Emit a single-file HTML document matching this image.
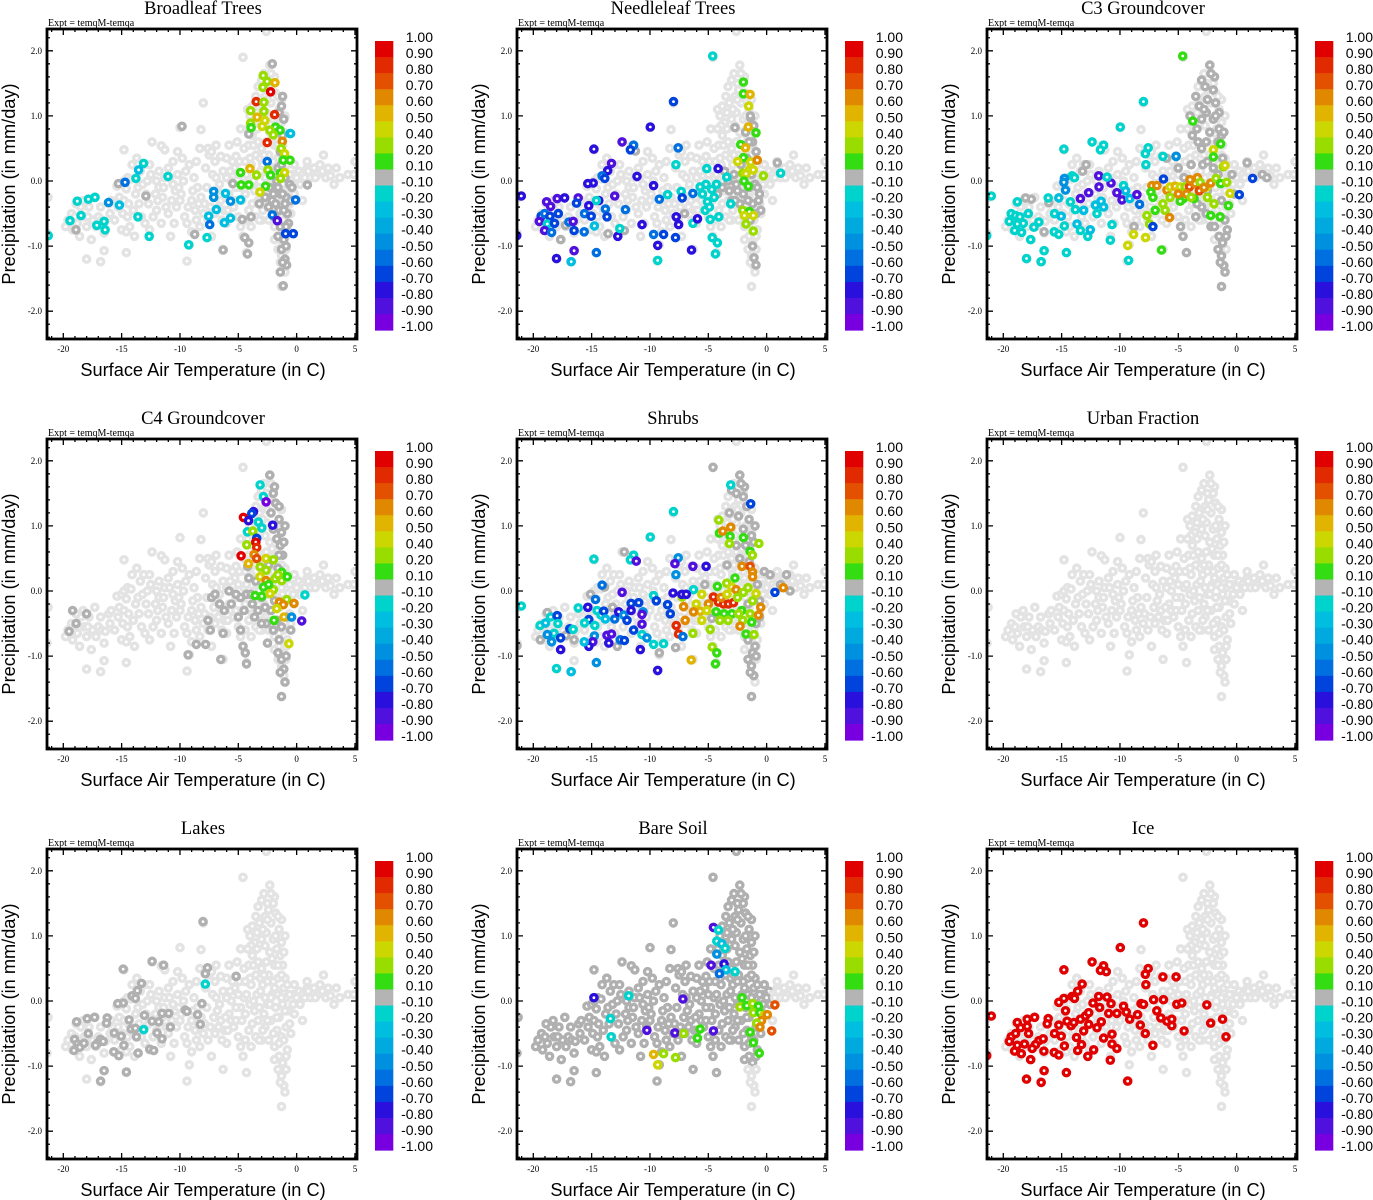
<!DOCTYPE html>
<html><head><meta charset="utf-8"><style>
html,body{margin:0;padding:0;background:#fff;}
svg{display:block;}
.t{font-family:"Liberation Serif",serif;}
.s{font-family:"Liberation Sans",sans-serif;}
</style></head><body>
<svg id="fig" width="1373" height="1200" viewBox="0 0 1373 1200" xmlns="http://www.w3.org/2000/svg"></svg>
<script>
const panelTitles=["Broadleaf Trees","Needleleaf Trees","C3 Groundcover","C4 Groundcover","Shrubs","Urban Fraction","Lakes","Bare Soil","Ice"];
const xTicks=[-20,-15,-10,-5,0,5];
const xTickLabels=["-20","-15","-10","-5","0","5"];
const yTicks=[2,1,0,-1,-2];
const yTickLabels=["2.0","1.0","0.0","-1.0","-2.0"];
const cbLabels=["1.00","0.90","0.80","0.70","0.60","0.50","0.40","0.20","0.10","-0.10","-0.20","-0.30","-0.40","-0.50","-0.60","-0.70","-0.80","-0.90","-1.00"];
const cbColors=["#e00000","#e22a00","#e25000","#e08800","#e0b400","#ccd600","#99dd00","#33dd11","#b4b4b4","#00d2cc","#00bedf","#00aade","#0090e0","#0070e0","#0044dd","#2a10dd","#5010dd","#7800e0"];
const cbEdges=[1,0.9,0.8,0.7,0.6,0.5,0.4,0.2,0.1,-0.1,-0.2,-0.3,-0.4,-0.5,-0.6,-0.7,-0.8,-0.9,-1.0];

const cloud=[[-19.6,-0.6],[-19.3,-0.5],[-19.0,-0.55],[-19.2,-0.75],[-18.8,-0.65],[-18.5,-0.4],[-18.2,-0.55],[-18.0,-0.7],[-18.9,-0.35],[-18.3,-0.3],[-17.8,-0.4],[-17.5,-0.6],[-17.2,-0.7],[-17.0,-0.55],[-16.7,-0.6],[-16.4,-0.62],[-16.5,-0.8],[-17.6,-0.9],[-16.1,-0.35],[-15.9,-0.3],[-17.3,-0.25],[-18.0,-1.2],[-16.8,-1.24],[-16.5,-1.07],[-21.3,-0.25],[-21.4,-0.8],
[-15.4,-0.08],[-15.0,-0.05],[-14.8,0.0],[-14.5,0.05],[-14.2,0.03],[-14.6,-0.12],[-15.2,-0.25],[-14.8,-0.3],[-14.4,-0.35],[-14.9,-0.5],[-14.5,-0.55],[-15.0,-0.75],[-14.6,-0.78],[-14.3,-0.7],[-14.0,-0.45],[-13.8,-0.2],[-13.6,-0.1],[-13.4,0.15],[-13.1,0.25],[-13.2,-0.05],[-12.9,-0.2],[-12.7,-0.35],[-13.3,-0.55],[-13.0,-0.65],[-12.6,-0.75],[-12.3,-0.55],[-12.1,-0.2],[-12.0,0.0],[-11.8,-0.1],[-11.5,-0.25],[-11.2,-0.4],[-11.0,-0.5],[-11.6,-0.65],[-11.9,-0.3],[-12.4,0.6],[-11.6,0.54],[-11.3,0.48],[-14.8,0.48],[-11.3,0.05],[-10.9,0.05],[-10.6,-0.05],[-10.4,-0.15],[-10.7,-0.3],[-10.3,-0.4],[-10.5,-0.65],[-10.8,-0.85],[-14.6,-1.1],
[-10.0,0.82],[-8.2,0.79],[-8.0,1.2],[-4.6,1.9],[-2.3,1.78],[-9.4,-1.23],[-9.2,-0.98],[-9.0,-0.78],[-8.6,-0.6],[-9.6,-0.55],[-9.9,-0.2],[-9.5,0.15],[-9.2,0.25],[-8.8,0.05],[-8.5,-0.1],[-8.2,-0.25],[-7.9,-0.35],[-8.0,-0.5],[-7.6,-0.6],[-7.4,-0.4],[-7.8,0.2],[-7.5,0.4],[-7.6,0.5],[-7.3,0.45],[-7.0,0.3],[-7.2,0.1],[-6.9,0.05],[-6.8,-0.15],[-6.5,-0.3],[-6.2,-0.45],[-6.0,-0.65],[-6.3,-1.05],[-7.3,-0.85],[-6.5,0.38],[-6.0,0.35],[-5.5,0.3],[-5.2,0.38],[-5.6,0.0],[-5.8,-0.2],[-5.4,-0.4],[-5.0,-0.55],[-4.8,-0.7],[-4.6,-0.85],[-4.3,-1.1],[-4.8,-0.1],[-4.5,0.05],[-4.3,0.1],[-4.5,0.5],[-4.9,0.3],
[-4.2,1.1],[-4.0,1.0],[-3.8,1.15],[-3.6,0.9],[-3.5,1.3],[-3.3,1.45],[-3.2,1.2],[-3.0,1.55],[-2.8,1.65],[-2.5,1.5],[-2.7,1.3],[-2.4,1.4],[-2.0,1.5],[-1.8,1.35],[-2.2,1.2],[-2.6,1.05],[-3.0,0.95],[-3.4,0.8],[-3.8,0.7],[-4.1,0.55],[-2.0,0.95],[-1.7,0.8],[-1.4,0.7],[-1.2,0.55],[-2.3,0.75],[-2.6,0.6],[-3.0,0.5],[-3.5,0.4],[-3.9,0.25],[-1.5,1.1],[-1.3,0.9],[-2.9,0.25],[-2.4,0.4],[-1.9,0.55],[-1.6,0.35],[-1.1,0.2],[-1.0,0.35],
[-4.0,-0.05],[-3.6,-0.15],[-3.2,-0.1],[-2.8,-0.2],[-2.5,-0.05],[-2.1,0.1],[-1.8,-0.1],[-1.5,-0.25],[-1.2,-0.05],[-0.9,0.05],[-0.7,-0.15],[-3.8,-0.35],[-3.3,-0.3],[-2.7,-0.4],[-2.2,-0.3],[-1.7,-0.45],[-1.3,-0.55],[-0.9,-0.4],[-3.5,-0.55],[-3.0,-0.6],[-2.4,-0.6],[-1.9,-0.7],[-1.5,-0.85],[-1.2,-0.95],[-1.6,-1.05],[-1.3,-1.15],[-1.1,-1.3],[-1.0,-1.4],[-1.3,-1.62],[-0.8,-0.75],[-0.5,-0.5],[-0.2,-0.2],[-0.4,0.1],[-0.2,0.25],
[0.2,0.15],[0.5,0.1],[0.9,0.2],[1.2,0.05],[1.5,0.2],[1.8,0.1],[2.2,0.15],[2.5,0.05],[2.9,0.08],[3.2,-0.05],[3.4,0.2],[2.3,0.4],[0.9,0.3],[0.5,-0.3],[4.4,0.1],[4.9,0.1],[5.0,0.3],[-0.1,-2.45],[-2.6,2.3],
[-9.0,-0.3],[-8.7,-0.45],[-9.3,-0.4],[-8.4,-0.35],[-8.9,-0.15],[-9.7,0.0],[-10.1,-0.1],[-10.2,0.1],[-9.8,0.35],[-10.6,0.3],[-11.0,0.2],[-11.8,0.15],[-12.5,0.1],[-12.8,0.0],[-13.5,-0.35],[-12.0,-0.45],[-11.4,-0.1],[-10.0,-0.3],[-9.4,-0.65],[-8.3,-0.7],[-7.7,-0.1],[-7.1,-0.25],[-7.0,-0.5],[-6.6,-0.05],[-6.3,0.15],[-6.0,0.05],[-6.1,-0.25],[-5.6,-0.3],[-5.2,-0.1],[-5.0,0.1],[-5.3,0.2],[-5.7,0.15],[-6.7,-0.4],[-6.4,-0.6],[-5.9,-0.45],[-5.2,-0.3],[-4.7,-0.3],[-4.4,-0.2],[-4.1,-0.45],[-4.4,-0.6],[-3.9,-0.7],[-4.0,0.35],[-4.4,0.3],[-3.7,0.0],[-3.4,0.1],[-3.1,0.15],[-2.7,0.05],[-2.3,-0.05],[-2.0,0.3],[-1.6,0.1],[-1.3,0.05],[-1.0,-0.15],[-0.6,-0.35],[-1.1,-0.6],[-1.7,-0.25],[-2.5,-0.3],[-2.9,-0.45],[-3.2,-0.6],[-2.0,-0.5],[-1.5,-0.65],[-0.9,-0.85],[-1.9,-0.9],[-1.4,-1.25],[-0.9,-1.05],
[-3.7,0.55],[-3.3,0.6],[-3.1,0.35],[-2.7,0.85],[-2.5,0.3],[-2.1,0.65],[-1.8,1.0],[-1.6,0.55],[-1.3,0.4],[-1.1,0.75],[-1.0,1.0],[-1.3,1.25],[-1.6,1.3],[-1.9,1.6],[-2.2,1.65],[-2.5,1.25],[-2.9,1.1],[-3.4,1.05],[-3.9,0.85],[-4.2,0.8],[-2.8,0.4],[-2.2,0.05],[-1.9,0.2],[-0.8,0.25],[-0.6,0.1],[-0.3,-0.05],[0.0,0.05],[0.3,-0.05],[0.7,0.05],[1.0,0.15],[1.6,0.05],[2.0,0.25],[2.7,0.2],[3.7,0.05],[-16.0,-0.5],[-15.6,-0.6],[-15.3,-0.4],[-16.8,-0.4],[-17.9,-0.55],[-19.8,-0.7],[-18.6,-0.85],[-13.9,-0.85],[-13.7,0.35],[-14.1,0.25],[-12.6,0.25],[-10.2,0.45],[-8.6,0.3],[-8.3,0.5],[-6.9,0.55],[-5.8,0.55],[-5.1,0.6],[-4.8,0.8]];

const broadleafPts=[[-2.87,1.62,.2],[-2.52,1.53,.2],[-1.86,1.51,.5],[-2.89,1.44,.2],[-2.23,1.37,.95],[-3.47,1.22,.8],[-2.81,1.21,.2],[-3.95,1.08,.3],[-2.81,1.07,.3],[-1.89,1.02,.8],[-3.38,0.98,.5],[-2.72,0.93,.45],[-3.95,0.89,.3],[-2.95,0.84,.45],[-3.9,0.82,.15],[-1.81,0.83,.15],[-2.29,0.78,.2],[-1.43,0.78,.15],[-2.0,0.71,.2],[-0.57,0.73,-.3],[-2.52,0.59,.8],[-1.23,0.61,.6],[-1.32,0.5,.2],[-1.03,0.42,.45],[-1.15,0.32,.15],[-0.57,0.32,.15],[-2.52,0.3,-.6],[-4.01,0.19,.5],[-4.81,0.13,.15],[-3.44,0.09,.2],[-2.46,0.17,.2],[-2.23,0.09,.15],[-1.38,0.12,.15],[-1.03,0.13,.45],[-1.38,0.04,.2],[-4.76,-0.06,.15],[-4.1,-0.06,.15],[-2.66,-0.08,.15],[-3.15,-0.17,.45],[-7.11,-0.16,-.45],[-6.1,-0.19,-.3],[-7.11,-0.25,-.45],[-5.67,-0.31,-.45],[-4.81,-0.29,-.3],[-6.88,-0.44,-.3],[-7.54,-0.54,-.3],[-5.67,-0.57,-.3],[-6.19,-0.64,-.3],[-7.45,-0.67,-.55],[-7.68,-0.87,-.15],[-9.25,-0.98,-.15],[-0.09,-0.29,-.55],[-2.09,-0.52,-.55],[-1.66,-0.61,-.85],[-0.95,-0.81,-.65],[-0.29,-0.81,-.65],[-0.52,0.73,-.3],[-13.12,0.27,-.15],[-13.55,0.17,-.3],[-13.78,0.04,-.15],[-14.7,-0.02,-.55],[-11.03,0.07,-.15],[-16.13,-0.33,-.45],[-15.19,-0.37,-.3],[-13.61,-0.55,-.15],[-17.85,-0.28,-.15],[-17.28,-0.25,-.15],[-18.8,-0.31,-.15],[-18.48,-0.53,-.15],[-19.43,-0.61,-.15],[-17.13,-0.68,-.15],[-16.42,-0.75,-.15],[-16.5,-0.62,-.15],[-12.64,-0.85,-.15],[-21.29,-0.84,-.15]];
const broadleafGray=[[-2.09,1.8],[-9.83,0.84],[-4.1,0.72],[-15.27,-0.04],[-12.92,-0.23],[-5.47,-0.04],[0.92,-0.06],[-4.67,-0.59],[-3.9,-0.55],[-18.91,-0.75],[-8.74,-0.82],[-4.44,-0.87],[-4.1,-0.95],[-6.3,-1.06],[-4.21,-1.12],[-1.15,-1.61],[-0.86,-1.29],[-1.2,1.3],[-1.3,1.15],[-1.1,0.95],[-1.4,0.45],[-1.6,0.2],[-1.0,0.05],[-0.6,-0.05],[-1.8,-0.1],[-1.4,-0.2],[-0.9,-0.25],[-2.1,-0.3],[-1.5,-0.45],[-0.8,-0.5],[-1.9,-0.55],[-1.4,-0.7],[-1.1,-0.9],[-1.3,-1.05],[-1.0,-1.2],[-2.7,-0.25],[-3.2,-0.35],[-0.4,-0.1],[-2.3,-0.1],[-1.7,0.0],[-1.2,0.7],[-2.0,-0.2],[-1.0,-0.35],[-0.7,-0.65],[-1.6,-0.85],[-1.4,-1.4],[-1.6,-0.1],[-1.2,-0.2],[-2.4,-0.4],[-1.8,-0.35],[-1.1,-0.45],[-0.5,-0.3],[-1.3,0.25],[-0.9,-0.7],[-1.2,-1.25],[-0.9,-1.0],[-1.5,1.05]];

const needlePts=[[-4.62,1.92,-.15],[-7.98,1.22,-.65],[-9.97,0.83,-.75],[-12.39,0.6,-.85],[-11.4,0.55,-.55],[-11.68,0.48,-.65],[-14.81,0.49,-.75],[-7.58,0.51,-.55],[-13.3,0.27,-.85],[-13.62,0.16,-.75],[-14.1,0.08,-.55],[-13.87,0.04,-.65],[-11.11,0.07,-.75],[-14.87,-0.03,-.75],[-15.33,-0.04,-.75],[-9.69,-0.07,-.75],[-7.78,0.25,-.15],[-21.03,-0.23,-.75],[-17.95,-0.27,-.85],[-17.32,-0.26,-.75],[-18.86,-0.32,-.85],[-18.52,-0.39,-.85],[-16.15,-0.26,-.85],[-16.3,-0.34,-.65],[-15.24,-0.38,-.75],[-14.39,-0.3,-.75],[-14.59,-0.3,-.15],[-13.82,-0.43,-.55],[-13.02,-0.23,-.85],[-12.11,-0.44,-.55],[-9.2,-0.28,-.55],[-8.49,-0.21,-.15],[-7.32,-0.16,-.15],[-7.24,-0.26,-.65],[-6.32,-0.19,-.55],[-19.32,-0.54,-.65],[-19.03,-0.5,-.55],[-18.58,-0.54,-.65],[-17.86,-0.5,-.65],[-19.49,-0.62,-.85],[-18.8,-0.66,-.15],[-18.18,-0.65,-.65],[-19.03,-0.76,-.85],[-18.43,-0.79,-.55],[-16.95,-0.63,-.55],[-16.58,-0.62,-.85],[-16.5,-0.76,-.65],[-15.61,-0.5,-.55],[-15.04,-0.54,-.65],[-14.76,-0.69,-.3],[-15.64,-0.78,-.55],[-13.68,-0.55,-.65],[-12.76,-0.85,-.75],[-12.59,-0.73,-.15],[-10.68,-0.67,-.75],[-9.69,-0.82,-.55],[-8.83,-0.82,-.65],[-9.34,-0.99,-.75],[-7.81,-0.87,-.65],[-7.75,-0.55,-.75],[-7.55,-0.67,-.75],[-6.44,-1.06,-.75],[-16.5,-1.07,-.85],[-18.01,-1.19,-.75],[-14.59,-1.1,-.55],[-16.75,-1.24,-.25],[-9.34,-1.22,-.15],[-21.42,-0.84,-.75],[-6.32,-0.65,-.15],[-5.93,-0.58,-.75],[-5.27,-0.45,-.15],[-5.07,-0.32,-.15],[-4.7,-0.13,-.15],[-5.7,-0.09,-.15],[-5.13,0.19,-.15],[-4.16,0.19,-.75],[-4.84,-0.59,-.15],[-4.1,-0.55,-.15],[-4.67,-0.87,-.15],[-4.22,-0.95,-.15],[-4.39,-1.12,-.15],[-3.08,-0.35,-.15],[-3.42,0.06,-.15],[1.2,0.12,-.15],[-1.99,1.52,.15],[-1.99,1.34,.15],[-1.42,1.33,.55],[-1.54,1.15,.45],[-1.57,0.83,.55],[-0.91,0.74,.15],[-2.22,0.56,.15],[-1.82,0.51,.55],[-1.99,0.36,.15],[-2.48,0.3,.45],[-1.37,0.29,.45],[-0.8,0.32,.65],[-1.48,0.17,.45],[-1.14,0.17,.45],[-2.05,0.12,.25],[-1.77,0.11,.45],[-0.28,0.08,.3],[-1.94,0.0,.15],[-1.57,-0.08,.15],[-2.05,-0.45,.3],[-1.48,-0.47,.15],[-1.14,-0.53,.45],[-1.91,-0.53,.45],[-1.77,-0.66,.3],[-1.14,-0.77,.3],[-4.5,-0.25,-.15],[-4.9,-0.4,-.15],[-5.5,-0.2,-.15],[-4.3,-0.05,-.15],[-5.2,-0.05,-.2]];
const needleGray=[[-11.25,0.46],[-2.71,0.82],[-1.37,0.97],[0.91,0.28],[-17.24,-0.68],[-17.66,-0.9],[-13.59,-0.81],[-12.19,-0.76],[-7.04,-0.5],[-1.2,-1.0],[-1.08,-1.18],[-0.91,-1.29],[-2.8,0.1],[-3.3,0.0],[-3.8,-0.1],[-2.5,-0.15],[-2.0,-0.2],[-1.5,-0.1],[-1.0,-0.05],[-0.6,-0.2],[-1.2,-0.35],[-2.3,-0.35],[-1.7,0.35],[-1.2,0.6],[-0.9,0.45],[-1.4,-0.6],[-0.9,-0.5],[-3.0,-0.3],[-4.2,-0.2],[-1.8,0.75],[-1.1,0.85],[-0.5,-0.45],[-3.6,0.15],[-2.2,0.25],[-2.6,-0.05],[-3.2,-0.15],[-1.6,-0.3],[-2.7,-0.3],[-0.8,-0.1],[-1.3,0.1],[-1.5,0.6],[-1.4,1.0],[-0.7,-0.3]];

const c3Pts=[[-4.62,1.92,.15],[-7.98,1.22,-.15],[-9.97,0.83,-.15],[-3.76,0.92,.15],[-1.37,0.57,.15],[-1.99,0.48,.45],[-12.39,0.6,-.15],[-11.4,0.55,-.15],[-11.68,0.48,-.15],[-14.81,0.49,-.15],[-7.58,0.51,-.15],[-7.83,0.42,-.15],[-6.32,0.38,-.15],[-5.19,0.38,-.45],[-7.78,0.25,-.15],[-1.99,0.37,.15],[-1.14,0.22,.25],[-1.0,0.24,.45],[-14.1,0.08,-.15],[-13.9,0.05,-.15],[-14.76,0.04,-.45],[-14.67,-0.14,-.45],[-11.82,0.08,-.85],[-10.77,-0.03,-.85],[-11.11,0.06,-.15],[-11.8,-0.09,-.85],[-9.69,-0.07,-.15],[-9.52,-0.15,-.3],[-12.68,-0.18,-.85],[-13.39,-0.27,-.85],[-10.26,-0.18,-.85],[-9.83,-0.29,-.85],[-9.17,-0.27,-.3],[-8.55,-0.21,-.85],[-8.32,-0.36,-.55],[-7.26,-0.07,.65],[-6.84,-0.07,.65],[-6.27,0.03,-.65],[-7.35,-0.17,.15],[-7.18,-0.25,.15],[-6.98,-0.45,.15],[-5.98,-0.14,.65],[-5.7,-0.09,.45],[-5.27,-0.08,.55],[-4.84,-0.09,.45],[-4.42,-0.09,.3],[-4.05,-0.09,.75],[-3.56,-0.04,.65],[-3.36,0.05,.65],[-3.13,-0.02,.3],[-2.56,-0.09,.45],[-2.22,-0.03,.65],[-1.77,0.04,.25],[-1.37,-0.04,.15],[-0.85,-0.02,.25],[-0.57,-0.19,.45],[-0.71,-0.38,.15],[-1.42,-0.55,.15],[-2.22,-0.53,.15],[-1.94,-0.35,.3],[-2.51,-0.25,.25],[-3.65,-0.27,.15],[-4.56,-0.27,.15],[-4.84,-0.31,.15],[-5.7,-0.25,.3],[-6.32,-0.35,.25],[-6.13,-0.45,.3],[-5.75,-0.56,.65],[-7.69,-0.53,.3],[-7.46,-0.66,.3],[-7.18,-0.7,-.65],[-8.83,-0.82,.45],[-7.81,-0.87,.45],[-9.34,-0.99,.45],[-6.44,-1.06,.15],[0.23,-0.21,-.65],[1.37,0.04,-.65],[-21.03,-0.23,-.15],[-21.42,-0.84,-.15],[-18.8,-0.32,-.15],[-19.32,-0.5,-.15],[-18.95,-0.53,-.15],[-18.58,-0.55,-.15],[-19.49,-0.62,-.15],[-18.8,-0.66,-.15],[-19.03,-0.76,-.15],[-18.29,-0.65,-.15],[-17.86,-0.5,-.15],[-18.43,-0.79,-.15],[-16.95,-0.63,-.15],[-17.38,-0.71,-.15],[-17.66,-0.9,-.15],[-16.5,-1.07,-.15],[-18.01,-1.19,-.15],[-16.75,-1.24,-.15],[-14.59,-1.1,-.15],[-16.15,-0.26,-.15],[-15.24,-0.26,-.3],[-15.61,-0.5,-.15],[-15.04,-0.54,-.3],[-14.76,-0.69,-.15],[-15.64,-0.78,-.15],[-15.24,-0.82,-.15],[-14.25,-0.32,-.15],[-13.82,-0.44,-.15],[-13.11,-0.45,-.3],[-13.68,-0.66,-.3],[-13.39,-0.76,-.15],[-12.76,-0.85,-.15],[-12.54,-0.75,-.3],[-12.11,-0.37,-.3],[-11.62,-0.31,-.3],[-11.97,-0.5,-.15],[-11.4,-0.4,-.3],[-10.68,-0.67,-.15],[-10.83,-0.91,-.15],[-9.26,-1.22,-.15],[-14.81,-0.02,-.45],[-4.3,-0.2,.65],[-3.9,-0.25,.3],[-3.2,-0.15,.75],[-2.8,-0.1,.6],[-5.0,-0.2,.6],[-4.0,0.02,.65]];
const c3Gray=[[-2.3,1.78],[-3.0,1.55],[-2.7,1.45],[-2.0,1.4],[-3.5,1.3],[-3.2,1.15],[-2.5,1.25],[-1.8,1.2],[-2.6,1.05],[-3.0,0.95],[-2.0,0.95],[-1.5,1.05],[-3.4,0.8],[-2.3,0.75],[-1.5,0.8],[-2.6,0.6],[-3.0,0.5],[-1.3,0.7],[-3.8,0.7],[-4.0,1.0],[-1.2,0.35],[-2.9,0.25],[-3.9,0.25],[-5.0,0.2],[-3.0,-0.4],[-2.2,-0.7],[-1.5,-0.85],[-1.2,-0.95],[-1.6,-1.05],[-1.3,-1.15],[-1.1,-1.3],[-1.0,-1.4],[-1.3,-1.62],[-3.5,-0.55],[-4.8,-0.7],[-4.3,-1.1],[-4.6,-0.85],[-0.8,-0.75],[-12.9,0.25],[-13.2,0.15],[-17.6,-0.28],[-18.1,-0.26],[-16.1,-0.33],[-16.5,-0.78],[-8.8,-0.7],[0.9,0.28],[2.2,0.1],[2.6,0.05],[-0.2,-0.2],[-0.4,0.1],[-5.2,0.38],[-6.0,0.35],[-4.5,0.05],[-2.5,-0.15],[-1.9,-0.7],[-1.0,-0.6],[-2.0,0.2],[-1.6,0.6],[-1.9,1.6],[-2.2,1.65],[-2.8,1.1],[-1.8,1.0],[-1.1,0.75],[-3.3,0.6],[-2.5,0.3],[-1.6,0.1],[-1.3,-0.3],[-2.6,-0.5],[-0.9,-0.85],[-1.4,-1.25],[-3.4,-0.35]];

const c4Pts=[[-3.13,1.63,-.15],[-2.85,1.45,-.15],[-2.62,1.37,-.95],[-3.7,1.22,-.75],[-3.85,1.19,-.65],[-4.56,1.13,.95],[-4.13,1.08,-.75],[-3.28,1.06,-.15],[-2.99,0.97,-.15],[-2.05,1.01,-.75],[-4.22,0.91,-.15],[-3.76,0.92,.3],[-3.42,0.81,-.65],[-4.27,0.71,.3],[-3.5,0.75,.95],[-3.42,0.67,.85],[-4.76,0.54,.95],[-3.65,0.56,.65],[-3.42,0.5,.75],[-4.13,0.42,.55],[-2.62,0.5,.45],[-1.99,0.48,.3],[-3.13,0.37,.25],[-2.62,0.32,.3],[-3.13,0.22,.45],[-2.62,0.16,.65],[-1.28,0.29,.15],[-1.85,0.19,.25],[-1.28,0.16,.3],[-0.8,0.22,.15],[-2.85,0.06,.15],[-1.99,0.02,.25],[-3.56,-0.07,.15],[-2.99,-0.08,.15],[-2.28,-0.04,.45],[0.71,-0.06,-.15],[-0.85,-0.13,.3],[-1.48,-0.17,.65],[-1.14,-0.21,.65],[-0.23,-0.19,.65],[-1.71,-0.27,.45],[-1.08,-0.4,.55],[-0.43,-0.4,-.45],[-1.94,-0.45,.15],[0.43,-0.46,-.85],[-0.66,-0.81,.45],[-2.4,0.1,.15],[-1.6,0.25,.25]];
const c4Gray=[[-2.3,1.78],[-2.0,1.5],[-1.8,1.35],[-2.2,1.2],[-1.5,1.1],[-1.3,0.9],[-1.7,0.8],[-2.0,0.95],[-1.4,0.7],[-1.2,0.55],[-2.4,0.4],[-1.6,0.35],[-4.1,0.2],[-4.8,-0.1],[-4.3,-0.05],[-3.8,-0.2],[-3.3,-0.3],[-2.7,-0.25],[-2.2,-0.3],[-1.7,-0.45],[-1.3,-0.55],[-5.6,-0.2],[-6.2,-0.3],[-7.3,-0.1],[-7.0,-0.05],[-7.6,-0.45],[-7.4,-0.6],[-6.3,-0.65],[-8.6,-0.82],[-7.8,-0.82],[-9.3,-0.98],[-6.5,-1.05],[-4.8,-0.6],[-4.6,-0.85],[-4.4,-0.95],[-4.3,-1.12],[-1.6,-0.95],[-1.3,-1.05],[-1.1,-1.2],[-1.0,-1.4],[-1.3,-1.62],[-1.5,-0.75],[-4.2,0.38],[-3.5,0.15],[-2.6,-0.5],[-19.5,-0.62],[-18.9,-0.5],[-18.0,-0.35],[-19.2,-0.3],[-0.5,-0.6],[-2.5,-0.8],[-1.9,-0.15],[-0.9,-0.4],[-3.9,-0.05],[-3.0,-0.1],[-5.2,-0.05],[-1.9,1.6],[-1.5,1.3],[-1.0,1.0],[-1.1,0.75],[-1.5,0.55],[-4.5,-0.3],[-3.6,-0.4],[-3.0,-0.5],[-2.0,-0.6],[-1.4,-1.25],[-0.9,-1.0],[-5.0,-0.4],[-5.8,0.0],[-6.6,-0.2]];

const shrubPts=[[-3.08,1.63,-.15],[-1.37,1.34,-.65],[-7.98,1.22,-.15],[-4.1,1.09,.3],[-4.05,0.89,.15],[-3.76,0.92,.65],[-3.08,0.98,.65],[-3.13,0.84,.15],[-1.99,0.82,.15],[-3.19,0.73,.3],[-0.66,0.73,.3],[-1.42,0.61,.15],[-1.22,0.55,.3],[-9.97,0.83,-.15],[-11.4,0.55,-.15],[-11.68,0.48,-.15],[-11.17,0.46,-.85],[-14.81,0.49,-.15],[-7.58,0.51,-.45],[-7.86,0.42,-.85],[-6.32,0.38,-.85],[-5.19,0.38,-.75],[-7.78,0.25,-.45],[-2.11,0.38,.65],[-1.42,0.38,.75],[-1.2,0.29,.65],[-1.2,0.22,.65],[-2.71,0.2,.15],[-6.27,0.02,-.15],[-4.22,0.07,.15],[-3.42,0.12,.3],[-2.99,0.06,.45],[-2.62,0.02,.65],[-1.99,-0.02,.3],[-0.91,-0.04,.45],[0.71,-0.02,-.65],[1.42,0.05,.65],[-4.56,-0.09,.85],[-4.13,-0.17,.85],[-3.7,-0.2,.85],[-3.28,-0.2,.85],[-2.85,-0.18,.85],[-4.99,-0.2,.65],[-5.56,-0.05,.45],[-6.04,-0.2,.45],[-5.7,-0.31,.55],[-5.13,-0.3,.45],[-4.33,-0.32,.15],[-3.65,-0.35,.15],[-2.99,-0.35,.15],[-2.14,-0.3,.15],[-1.42,-0.35,.3],[-0.51,-0.25,.65],[-0.71,-0.37,.65],[-1.28,-0.48,.15],[-2.05,-0.45,.3],[-2.28,-0.54,.65],[-1.77,-0.66,.15],[-1.08,-0.67,.3],[-7.26,-0.09,.3],[-7.12,-0.24,.65],[-6.27,-0.32,.65],[-6.98,-0.45,.65],[-7.75,-0.53,.85],[-7.55,-0.66,.85],[-6.32,-0.65,.3],[-5.56,-0.45,.45],[-4.84,-0.59,.3],[-4.67,-0.86,.3],[-4.27,-0.95,.15],[-4.39,-1.12,.15],[-6.47,-1.06,.55],[-21.03,-0.23,-.15],[-19.43,-0.53,-.15],[-18.95,-0.49,-.3],[-18.52,-0.4,-.15],[-17.95,-0.38,-.65],[-17.89,-0.5,-.15],[-18.23,-0.65,-.15],[-18.8,-0.67,-.45],[-18.43,-0.78,-.45],[-17.66,-0.72,-.65],[-17.66,-0.9,-.75],[-16.87,-0.58,-.65],[-16.58,-0.59,-.15],[-16.15,-0.26,-.15],[-15.33,-0.25,-.75],[-14.67,-0.13,-.55],[-14.1,0.09,-.55],[-14.53,-0.3,-.15],[-14.19,-0.37,-.15],[-13.96,-0.31,-.65],[-15.24,-0.44,-.65],[-14.73,-0.53,-.15],[-15.61,-0.49,-.15],[-14.76,-0.69,-.45],[-14.9,-0.78,-.85],[-15.24,-0.85,-.75],[-15.64,-0.78,-.3],[-13.68,-0.68,-.85],[-13.3,-0.66,-.85],[-13.53,-0.8,-.75],[-13.82,-0.43,-.3],[-13.02,-0.43,-.55],[-12.68,-0.32,-.75],[-12.39,-0.02,-.85],[-12.25,-0.37,-.45],[-11.97,-0.45,-.65],[-11.62,-0.19,-.65],[-11.62,-0.3,-.75],[-10.97,-0.18,-.65],[-10.6,-0.32,-.45],[-10.68,-0.36,-.85],[-10.68,-0.51,-.85],[-11.4,-0.6,-.65],[-10.68,-0.67,-.15],[-10.26,-0.72,-.45],[-12.54,-0.75,-.55],[-12.19,-0.76,-.65],[-10.83,-0.9,-.75],[-9.69,-0.07,-.15],[-9.46,-0.15,-.65],[-9.69,-0.82,-.15],[-8.83,-0.81,-.15],[-8.49,-0.21,-.65],[-8.03,-0.03,-.75],[-7.26,-0.05,-.75],[-6.89,-0.05,-.75],[-8.26,-0.35,-.65],[-7.18,-0.7,-.55],[-9.34,-1.22,-.75],[-14.59,-1.1,-.45],[-18.01,-1.19,-.15],[-16.75,-1.24,-.3],[-3.9,-0.1,.65],[-3.4,-0.05,.45],[-2.5,-0.1,.3],[-1.6,0.05,.25],[-1.2,-0.15,.3],[-2.4,-0.35,.25],[-3.3,-0.45,.25],[-4.0,-0.45,.3]];
const shrubGray=[[-3.0,1.55],[-2.3,1.78],[-2.6,1.5],[-2.0,1.45],[-1.7,1.3],[-3.2,1.2],[-2.4,1.15],[-1.5,1.1],[-2.0,0.95],[-2.6,0.7],[-1.8,0.7],[-1.3,0.85],[-2.3,0.5],[-3.4,0.4],[-1.5,0.45],[-4.6,1.9],[-12.2,0.6],[-13.9,0.06],[-15.1,-0.05],[-18.8,-0.33],[-19.0,-0.5],[-19.4,-0.75],[-17.2,-0.68],[-16.5,-0.75],[-13.2,-0.25],[-12.8,-0.85],[-7.8,-0.87],[-9.2,-0.95],[-4.7,-0.42],[-5.0,-0.2],[-0.2,0.3],[0.3,0.25],[1.2,0.1],[2.0,0.0],[1.7,0.25],[-1.6,-0.75],[-1.2,-0.95],[-1.6,-1.05],[-1.3,-1.15],[-1.1,-1.3],[-1.3,-1.62],[-0.9,-0.5],[-0.6,-0.15],[-1.6,-0.2],[-5.3,0.1],[-21.4,-0.84],[-1.0,-0.85],[-0.8,0.1],[-1.9,1.6],[-2.2,1.65],[-1.0,1.0],[-1.1,0.75],[-1.4,-1.25],[-0.9,-1.0],[-0.6,-0.4]];

const lakePts=[[-7.83,0.26,-.15],[-13.11,-0.44,-.15]];
const lakeGray=[[-8.03,1.22],[-12.39,0.61],[-11.4,0.55],[-14.87,0.49],[-7.64,0.51],[-7.83,0.42],[-5.19,0.38],[-13.3,0.27],[-13.65,0.16],[-14.1,0.08],[-13.82,0.04],[-14.87,-0.03],[-15.33,-0.04],[-8.12,-0.04],[-9.54,-0.14],[-9.4,-0.16],[-8.49,-0.21],[-8.26,-0.36],[-17.95,-0.27],[-17.32,-0.25],[-16.24,-0.26],[-16.3,-0.34],[-13.05,-0.22],[-14.36,-0.29],[-12.39,-0.31],[-11.82,-0.32],[-11.54,-0.19],[-10.97,-0.19],[-10.83,-0.4],[-11.97,-0.49],[-11.54,-0.58],[-14.19,-0.43],[-13.82,-0.42],[-13.73,-0.55],[-15.64,-0.49],[-15.04,-0.54],[-14.81,-0.68],[-15.67,-0.78],[-15.24,-0.84],[-13.59,-0.8],[-12.59,-0.74],[-12.25,-0.76],[-17.86,-0.5],[-19.03,-0.59],[-18.8,-0.66],[-18.58,-0.71],[-19.09,-0.76],[-18.23,-0.65],[-17.09,-0.65],[-16.81,-0.59],[-16.58,-0.62],[-17.24,-0.68],[-16.5,-1.07],[-14.59,-1.09],[-16.8,-1.23],[-18.86,-0.32]];

const soilPts=[[-4.56,1.13,-.85],[-4.13,1.09,-.15],[-4.27,0.92,-.15],[-3.85,0.88,-.3],[-3.56,0.81,-.15],[-4.27,0.72,-.45],[-3.65,0.57,-.75],[-3.48,0.48,-.3],[-4.05,0.42,-.55],[-2.71,0.45,-.15],[-4.76,0.55,-.85],[-14.81,0.05,-.75],[-11.82,0.08,-.15],[-7.18,0.03,-.85],[-13.39,-0.27,-.15],[-13.33,-0.55,-.15],[-10.26,-0.45,-.85],[-7.86,-0.49,-.85],[-4.56,-0.46,-.85],[-2.11,0.05,.15],[-2.28,-0.09,.3],[-1.71,-0.07,.15],[-1.2,-0.04,.3],[-0.71,-0.08,.15],[-1.14,-0.18,.3],[-0.57,-0.18,.15],[-0.23,-0.22,.45],[0.06,-0.21,.65],[0.71,-0.06,.75],[-0.43,-0.3,.65],[-0.85,-0.34,.3],[-0.57,-0.4,.65],[0.43,-0.46,.75],[-1.42,-0.48,.15],[-1.14,-0.64,.15],[-0.63,-0.8,.15],[-7.12,-0.5,.3],[-5.7,-0.43,.15],[-5.93,-0.57,.15],[-9.69,-0.82,.55],[-8.83,-0.81,.3],[-9.34,-0.98,.45],[-7.81,-0.87,.3]];

const icePts=[[-7.98,1.2],[-9.97,0.82],[-12.39,0.6],[-11.4,0.54],[-11.68,0.47],[-11.17,0.45],[-14.81,0.48],[-7.58,0.5],[-7.83,0.41],[-6.32,0.37],[-5.19,0.37],[-7.78,0.25],[-13.25,0.26],[-13.62,0.15],[-14.1,0.07],[-13.9,0.04],[-14.81,0.04],[-15.24,-0.02],[-14.67,-0.15],[-21.03,-0.23],[-21.42,-0.84],[-17.95,-0.28],[-17.32,-0.25],[-18.8,-0.33],[-18.52,-0.41],[-17.95,-0.39],[-16.15,-0.27],[-16.24,-0.35],[-15.24,-0.37],[-14.53,-0.31],[-14.19,-0.38],[-13.96,-0.33],[-13.39,-0.28],[-12.96,-0.23],[-12.68,-0.18],[-12.31,-0.03],[-11.82,0.07],[-11.11,0.06],[-10.77,-0.04],[-11.74,-0.1],[-10.97,-0.19],[-10.26,-0.19],[-9.69,-0.08],[-9.46,-0.17],[-9.17,-0.28],[-8.49,-0.21],[-8.2,-0.04],[-7.98,-0.05],[-7.12,0.02],[-6.27,0.02],[-6.84,-0.15],[-6.5,-0.26],[-5.98,-0.31],[-5.56,-0.28],[-5.56,-0.38],[-5.13,-0.05],[-4.7,-0.03],[-4.5,-0.46],[-2.56,-0.06],[-2.22,-0.34],[-1.2,-0.28],[-0.91,-0.55],[-8.26,-0.37],[-7.83,-0.5],[-7.18,-0.68],[-10.26,-0.73],[-10.68,-0.66],[-10.83,-0.91],[-9.34,-1.23],[-11.6,-0.32],[-11.97,-0.41],[-12.68,-0.36],[-13.11,-0.46],[-13.73,-0.56],[-13.3,-0.67],[-13.62,-0.76],[-12.76,-0.85],[-12.25,-0.75],[-11.4,-0.57],[-10.68,-0.51],[-15.61,-0.5],[-15.04,-0.54],[-14.76,-0.69],[-15.64,-0.79],[-15.24,-0.83],[-14.59,-1.1],[-16.5,-1.07],[-18.01,-1.2],[-16.75,-1.25],[-17.66,-0.9],[-16.52,-0.77],[-16.95,-0.61],[-16.58,-0.58],[-17.24,-0.67],[-17.52,-0.73],[-18.18,-0.66],[-18.8,-0.68],[-19.03,-0.77],[-18.46,-0.81],[-19.32,-0.55],[-19.49,-0.62],[-18.95,-0.5],[-17.83,-0.5]];
const iceValue=0.95;

const NS="http://www.w3.org/2000/svg";
const svg=document.getElementById('fig');
function mk(tag,attrs,parent){const e=document.createElementNS(NS,tag);for(const k in attrs)e.setAttribute(k,attrs[k]);(parent||svg).appendChild(e);return e;}
function colorFor(v){for(let i=0;i<18;i++){if(v<=cbEdges[i]&&v>=cbEdges[i+1])return cbColors[i];}return cbColors[v>0?0:17];}
const sx=(ox,x)=>ox+63.3+(x+20)*11.667;
const sy=(oy,y)=>oy+181-y*65.1;

const panels=[
 {pts:broadleafPts,gray:broadleafGray},
 {pts:needlePts,gray:needleGray},
 {pts:c3Pts,gray:c3Gray},
 {pts:c4Pts,gray:c4Gray},
 {pts:shrubPts,gray:shrubGray},
 {pts:[],gray:[]},
 {pts:lakePts,gray:lakeGray},
 {pts:soilPts,gray:[],soil:true},
 {pts:icePts.map(p=>[p[0],p[1],iceValue]),gray:[]}
];

panels.forEach((p,i)=>{
  const ox=(i%3)*470, oy=Math.floor(i/3)*410;
  const g=mk('g',{});
  
  
  const t=mk('text',{x:ox+203,y:oy+14,'text-anchor':'middle','font-size':'18.5',class:'t'},g);
  t.textContent=panelTitles[i];
  
  
  const ex=mk('text',{x:ox+48,y:oy+26,'font-size':'10',class:'t'},g);
  ex.textContent='Expt = temqM-temqa';
  
  
  const cid='clip'+i;
  const cp=mk('clipPath',{id:cid},g);
  mk('rect',{x:ox+47,y:oy+29,width:310,height:310},cp);
  const pg=mk('g',{'clip-path':'url(#'+cid+')'},g);
  
  
  const dot=(x,y,c,nm)=>{const e=mk('circle',{cx:sx(ox,x).toFixed(1),cy:sy(oy,y).toFixed(1),r:3.1,fill:'#fff',stroke:c,'stroke-width':3.4},pg);
    
    };
  cloud.forEach(c=>{
    let col='#e3e3e3';
    if(p.soil && !(c[0]>0.3 || (c[1]<-0.95 && c[0]>-3))) col='#b0b0b0';
    dot(c[0],c[1],col,'grid-point');
  });
  p.gray.forEach(c=>dot(c[0],c[1],'#b0b0b0','insignificant-point'));
  p.pts.forEach(c=>dot(c[0],c[1],colorFor(c[2]),'correlation-point'));
  const fr=mk('rect',{x:ox+47,y:oy+29,width:310,height:310,fill:'none',stroke:'#000','stroke-width':2.8},g);
  
  
  let d='';
  for(let v=-21;v<=5;v++){const X=sx(ox,v);const L=(v%5===0)?6:3;d+=`M${X},${oy+339}v${-L}M${X},${oy+29}v${L}`;}
  for(let k=-12;k<=11;k++){const v=k*0.2;const Y=sy(oy,v);const L=(k%5===0)?6:3;d+=`M${ox+47},${Y}h${L}M${ox+357},${Y}h${-L}`;}
  const tk=mk('path',{d:d,stroke:'#000','stroke-width':1.3,fill:'none'},g);
  
  
  xTicks.forEach((v,j)=>{const e=mk('text',{x:sx(ox,v),y:oy+352,'text-anchor':'middle','font-size':'9',class:'t'},g);e.textContent=xTickLabels[j];
    
    });
  yTicks.forEach((v,j)=>{const e=mk('text',{x:ox+42,y:sy(oy,v)+3,'text-anchor':'end','font-size':'9',class:'t'},g);e.textContent=yTickLabels[j];
    
    });
  const xl=mk('text',{x:ox+203,y:oy+376,'text-anchor':'middle','font-size':'18.2',class:'s'},g);
  xl.textContent='Surface Air Temperature (in C)';
  
  
  const yl=mk('text',{x:0,y:0,'text-anchor':'middle','font-size':'18.2',class:'s',transform:`translate(${ox+15},${oy+184}) rotate(-90)`},g);
  yl.textContent='Precipitation (in mm/day)';
  
  
  const cb=mk('g',{},g);
  
  
  cbColors.forEach((c,j)=>{const r=mk('rect',{x:ox+375,y:oy+41+j*16.06,width:18.3,height:16.6,fill:c},cb);
    
    });
  cbLabels.forEach((l,j)=>{const e=mk('text',{x:ox+433,y:oy+42+j*16.06,'text-anchor':'end','font-size':'14',class:'s'},cb);e.textContent=l;
    
    });
});
</script>
</body></html>
